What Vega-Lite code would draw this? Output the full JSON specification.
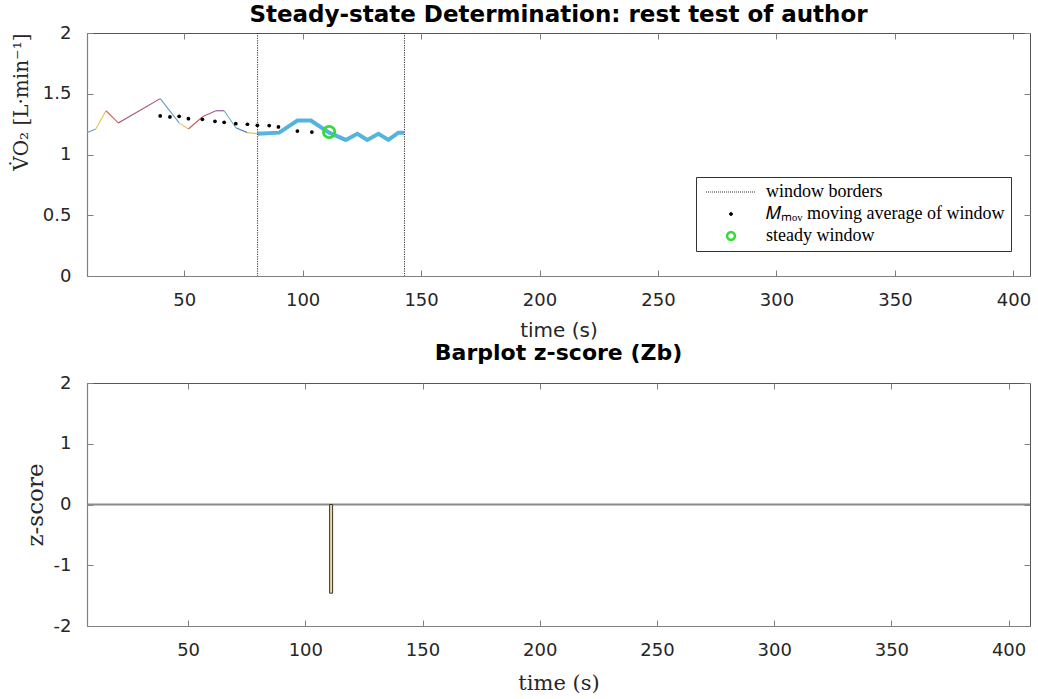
{
  "$schema": "https://vega.github.io/schema/vega-lite/v6.json",
  "background": "white",
  "padding": {"left": 10, "top": 3, "right": 5, "bottom": 2},
  "datasets": {
    "segments": [
      {"s": 1, "t": 9, "v": 1.18, "t2": 12.7, "v2": 1.21},
      {"s": 2, "t": 12.7, "v": 1.21, "t2": 17, "v2": 1.36},
      {"s": 3, "t": 17, "v": 1.36, "t2": 22.2, "v2": 1.26},
      {"s": 4, "t": 22.2, "v": 1.26, "t2": 39.9, "v2": 1.46},
      {"s": 5, "t": 39.9, "v": 1.46, "t2": 47.9, "v2": 1.26},
      {"s": 6, "t": 47.9, "v": 1.26, "t2": 51.8, "v2": 1.21},
      {"s": 7, "t": 51.8, "v": 1.21, "t2": 57.7, "v2": 1.31},
      {"s": 8, "t": 57.7, "v": 1.31, "t2": 63.4, "v2": 1.36},
      {"s": 9, "t": 63.4, "v": 1.36, "t2": 66.9, "v2": 1.36},
      {"s": 10, "t": 66.9, "v": 1.36, "t2": 71.8, "v2": 1.22},
      {"s": 11, "t": 71.8, "v": 1.22, "t2": 76.7, "v2": 1.18},
      {"s": 12, "t": 76.7, "v": 1.18, "t2": 81, "v2": 1.17}
    ],
    "steady": [
      {"t": 81, "v": 1.17}, {"t": 90.1, "v": 1.18}, {"t": 97.8, "v": 1.28},
      {"t": 103.5, "v": 1.28}, {"t": 111.2, "v": 1.18}, {"t": 118.2, "v": 1.12},
      {"t": 123.1, "v": 1.17}, {"t": 127.3, "v": 1.12}, {"t": 132, "v": 1.17},
      {"t": 136.2, "v": 1.12}, {"t": 140.4, "v": 1.18}, {"t": 142.8, "v": 1.18}
    ],
    "borders": [
      {"t": 81, "series": "window borders"},
      {"t": 143, "series": "window borders"}
    ],
    "mov": [
      {"t": 39.9, "v": 1.317}, {"t": 44.0, "v": 1.309}, {"t": 47.9, "v": 1.314},
      {"t": 51.8, "v": 1.295}, {"t": 57.7, "v": 1.29}, {"t": 63.0, "v": 1.273},
      {"t": 66.9, "v": 1.265}, {"t": 71.8, "v": 1.254}, {"t": 76.7, "v": 1.249},
      {"t": 80.9, "v": 1.24}, {"t": 85.9, "v": 1.238}, {"t": 89.8, "v": 1.227},
      {"t": 97.8, "v": 1.193}, {"t": 103.9, "v": 1.185}
    ],
    "steadypoint": [{"t": 111.2, "v": 1.185}],
    "zero": [{"z": 0}],
    "zscore": [{"t": 111, "z": -1.46}]
  },
  "spacing": 0,
  "vconcat": [
    {
      "title": {"text": "Steady-state Determination: rest test of author", "anchor": "middle", "offset": -3, "fontSize": 23},
      "width": 943,
      "height": 243,
      "layer": [
        {
          "data": {"name": "segments"},
          "mark": {"type": "rule", "strokeWidth": 1.1},
          "encoding": {
            "x": {"field": "t", "type": "quantitative", "scale": {"domain": [9, 407], "nice": false, "zero": false},
              "axis": {"values": [50, 100, 150, 200, 250, 300, 350, 400], "title": "time (s)", "titleFont": "DejaVu Sans", "titleFontSize": 20, "titlePadding": 11}},
            "y": {"field": "v", "type": "quantitative", "scale": {"domain": [0, 2], "nice": false},
              "axis": {"values": [0, 0.5, 1, 1.5, 2], "format": "~g", "title": "V̇O₂  [L·min⁻¹]", "titleFont": "DejaVu Serif", "titleFontSize": 20, "titlePadding": 11, "titleAnchor": "end"}},
            "x2": {"field": "t2"},
            "y2": {"field": "v2"},
            "color": {"field": "s", "type": "ordinal", "legend": null,
              "scale": {"range": ["#6aa6cf", "#e7c250", "#cf6a55", "#a04a78", "#6a9cc0", "#e7c250", "#c8554a", "#b45a82", "#8a4f98", "#62aed6", "#4f86ad", "#e7c250"]}}
          }
        },
        {
          "data": {"name": "steady"},
          "mark": {"type": "line", "color": "#55b4df", "strokeWidth": 4},
          "encoding": {
            "x": {"field": "t", "type": "quantitative", "axis": {"orient": "top", "labels": false, "title": null, "domain": false, "values": [50, 100, 150, 200, 250, 300, 350, 400]}},
            "y": {"field": "v", "type": "quantitative", "axis": {"orient": "right", "labels": false, "title": null, "domain": false, "values": [0, 0.5, 1, 1.5, 2]}}
          }
        },
        {
          "data": {"name": "borders"},
          "mark": {"type": "rule", "strokeWidth": 1, "strokeDash": [1.2, 1.2]},
          "encoding": {
            "x": {"field": "t", "type": "quantitative", "axis": null},
            "color": {
              "field": "series", "type": "nominal",
              "scale": {"domain": ["window borders", "𝑀ₘₒᵥ moving average of window", "steady window"], "range": ["#333333", "#000000", "#33dd33"]},
              "legend": {
                "title": null, "orient": "none", "legendX": 609, "legendY": 144,
                "strokeColor": "#333333", "fillColor": "white", "padding": 6,
                "labelFont": "Liberation Serif", "labelFontSize": 18, "labelColor": "#000000", "labelLimit": 500,
                "symbolSize": 100, "symbolOffset": 20, "labelOffset": 26, "rowPadding": 4,
                "encode": {
                  "symbols": {
                    "update": {
                      "shape": {"signal": "datum.value == 'window borders' ? 'M-5,0L5,0' : 'circle'"},
                      "size": {"signal": "datum.value == 'window borders' ? 100 : (datum.value == 'steady window' ? 60 : 10)"},
                      "fill": {"signal": "indexof(datum.value, 'moving') >= 0 ? '#000000' : 'transparent'"},
                      "stroke": {"signal": "datum.value == 'window borders' ? '#555555' : (datum.value == 'steady window' ? '#33dd33' : '#000000')"},
                      "strokeWidth": {"signal": "datum.value == 'steady window' ? 2.5 : 1"},
                      "strokeDash": {"signal": "datum.value == 'window borders' ? [1, 1] : [1, 0]"}
                    }
                  }
                }
              }
            }
          }
        },
        {
          "data": {"name": "mov"},
          "mark": {"type": "point", "filled": true, "color": "#000000", "size": 14, "opacity": 1},
          "encoding": {
            "x": {"field": "t", "type": "quantitative", "axis": null},
            "y": {"field": "v", "type": "quantitative", "axis": null}
          }
        },
        {
          "data": {"name": "steadypoint"},
          "mark": {"type": "point", "filled": false, "color": "#33dd33", "size": 130, "strokeWidth": 2.8, "opacity": 1},
          "encoding": {
            "x": {"field": "t", "type": "quantitative", "axis": null},
            "y": {"field": "v", "type": "quantitative", "axis": null}
          }
        }
      ],
      "resolve": {"scale": {"color": "independent"}, "axis": {"x": "independent", "y": "independent"}}
    },
    {
      "title": {"text": "Barplot z-score (Zb)", "anchor": "middle", "offset": 9, "fontSize": 22},
      "width": 943,
      "height": 243,
      "layer": [
        {
          "data": {"name": "zero"},
          "mark": {"type": "rule", "color": "#8a8a8a", "strokeWidth": 2},
          "encoding": {
            "y": {"field": "z", "type": "quantitative", "scale": {"domain": [-2, 2], "nice": false},
              "axis": {"values": [-2, -1, 0, 1, 2], "labelExpr": "datum.value < 0 ? '-' + abs(datum.value) : '' + datum.value", "title": "z-score", "titleFont": "DejaVu Serif", "titleFontSize": 23, "titlePadding": 6}}
          }
        },
        {
          "data": {"name": "zscore"},
          "mark": {"type": "bar", "width": 3, "fill": "#eadbae", "stroke": "#3b3226", "strokeWidth": 1},
          "encoding": {
            "x": {"field": "t", "type": "quantitative", "scale": {"domain": [9, 407], "nice": false, "zero": false},
              "axis": {"values": [50, 100, 150, 200, 250, 300, 350, 400], "title": "time (s)", "titleFont": "DejaVu Serif", "titleFontSize": 21, "titlePadding": 13}},
            "y": {"field": "z", "type": "quantitative", "axis": null},
            "y2": {"datum": 0}
          }
        },
        {
          "data": {"name": "zero"},
          "mark": {"type": "rule", "opacity": 0},
          "encoding": {
            "x": {"datum": 100, "type": "quantitative", "axis": {"orient": "top", "labels": false, "title": null, "domain": false, "values": [50, 100, 150, 200, 250, 300, 350, 400]}},
            "y": {"field": "z", "type": "quantitative", "axis": {"orient": "right", "labels": false, "title": null, "domain": false, "values": [-2, -1, 0, 1, 2]}}
          }
        }
      ],
      "resolve": {"axis": {"x": "independent", "y": "independent"}}
    }
  ],
  "config": {
    "view": {"stroke": "#555555", "strokeWidth": 1},
    "axis": {
      "labelFont": "DejaVu Sans", "labelFontSize": 18, "labelColor": "#262626",
      "domainColor": "#808080", "domainWidth": 1.2, "tickColor": "#808080", "tickSize": -6, "tickWidth": 1,
      "grid": false, "titleFontWeight": "normal", "titleColor": "#262626"
    },
    "axisX": {"labelPadding": 21},
    "axisY": {"labelPadding": 22},
    "title": {"font": "DejaVu Sans", "fontWeight": "bold", "color": "#000000"}
  }
}
